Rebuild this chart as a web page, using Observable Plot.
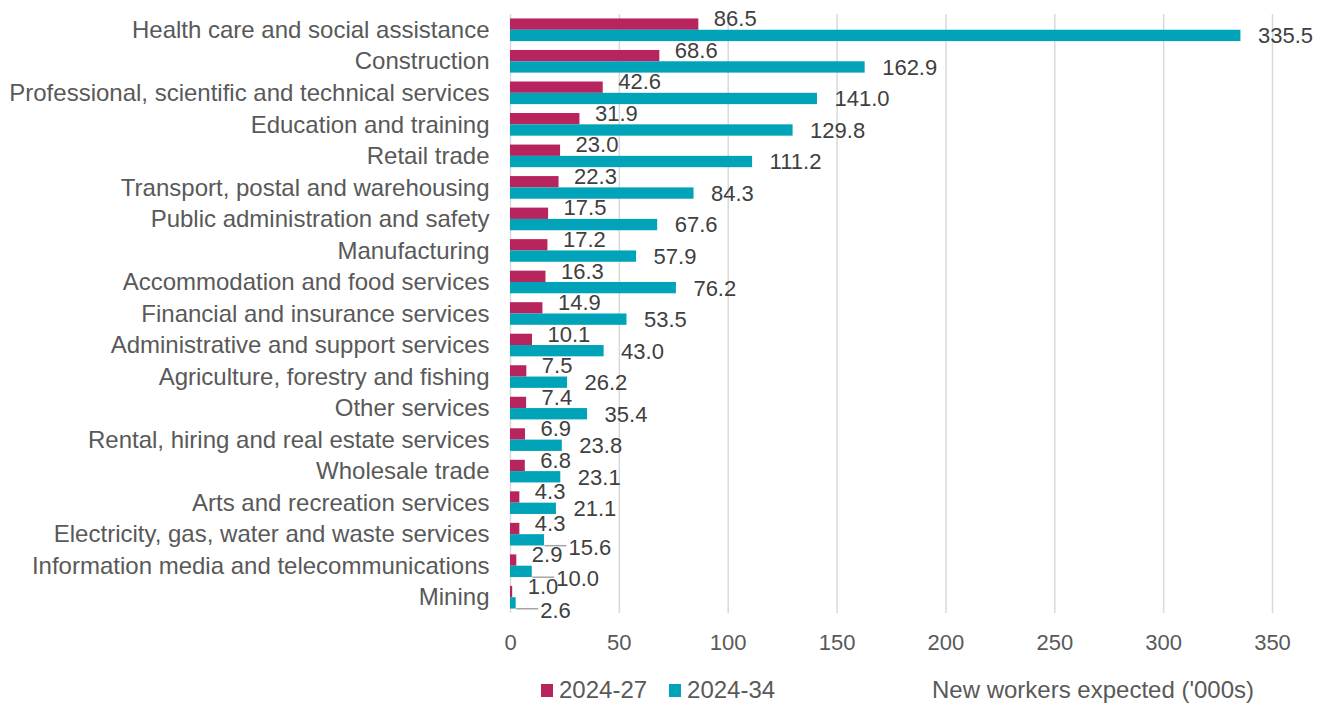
<!DOCTYPE html>
<html>
<head>
<meta charset="utf-8">
<script src="https://cdn.jsdelivr.net/npm/d3@7"></script>
<script src="https://cdn.jsdelivr.net/npm/@observablehq/plot@0.6"></script>
<style>
  html, body { margin: 0; padding: 0; background: #fff; }
  #wrap { position: relative; width: 1328px; height: 706px; font-family: "Liberation Sans", Arial, sans-serif; }
  .legend { position: absolute; top: 675px; left: 541px; display: flex; align-items: center; font-size: 24px; color: #595959; line-height: 30px; }
  .sw { display: inline-block; width: 12px; height: 13px; margin-right: 6px; }
  .item { display: flex; align-items: center; margin-right: 22px; }
  .xlabel { position: absolute; top: 675px; left: 932px; font-size: 24px; color: #595959; line-height: 30px; }
</style>
</head>
<body>
<div id="wrap"></div>
<script>
const categories = [
  "Health care and social assistance",
  "Construction",
  "Professional, scientific and technical services",
  "Education and training",
  "Retail trade",
  "Transport, postal and warehousing",
  "Public administration and safety",
  "Manufacturing",
  "Accommodation and food services",
  "Financial and insurance services",
  "Administrative and support services",
  "Agriculture, forestry and fishing",
  "Other services",
  "Rental, hiring and real estate services",
  "Wholesale trade",
  "Arts and recreation services",
  "Electricity, gas, water and waste services",
  "Information media and telecommunications",
  "Mining"
];
const values2027 = [86.5, 68.6, 42.6, 31.9, 23.0, 22.3, 17.5, 17.2, 16.3, 14.9, 10.1, 7.5, 7.4, 6.9, 6.8, 4.3, 4.3, 2.9, 1.0];
const values2034 = [335.5, 162.9, 141.0, 129.8, 111.2, 84.3, 67.6, 57.9, 76.2, 53.5, 43.0, 26.2, 35.4, 23.8, 23.1, 21.1, 15.6, 10.0, 2.6];
const seriesNames = ["2024-27", "2024-34"];
const xTicks = [0, 50, 100, 150, 200, 250, 300, 350];

const colors = ["#B7245E", "#00A3B8"];

const d27 = categories.map((c, i) => ({category: c, value: values2027[i]}));
const d34 = categories.map((c, i) => ({category: c, value: values2034[i]}));
// crowded small labels are pushed down-right with a leader line (as in the source chart)
const crowdLimit = 20;
const d34normal = d34.filter(d => d.value >= crowdLimit);
const d34crowded = d34.filter(d => d.value < crowdLimit);

const step = 31.5;
const barH = 11.3;
const half = step / 2;
const pxPerUnit = (1328 - 56 - 510) / 350;

const chart = Plot.plot({
  width: 1328,
  height: 660,
  marginLeft: 510,
  marginRight: 56,
  marginTop: 14,
  marginBottom: 47,
  style: { fontFamily: "Liberation Sans, Arial, sans-serif", fontSize: "22px", color: "#595959", background: "#fff" },
  x: { domain: [0, 350], ticks: xTicks, label: null },
  y: { domain: categories, padding: 0, round: false, label: null },
  marks: [
    Plot.gridX(xTicks, { stroke: "#D9D9D9", strokeOpacity: 1, strokeWidth: 1.5 }),
    Plot.axisX({ ticks: xTicks, tickSize: 0, tickPadding: 21, fontSize: 22, fill: "#595959", label: null }),
    Plot.axisY({ tickSize: 0, tickPadding: 21, fontSize: 24, fill: "#595959", label: null }),
    Plot.barX(d27, { x: "value", y: "category", fill: colors[0], insetTop: half - barH, insetBottom: half }),
    Plot.barX(d34, { x: "value", y: "category", fill: colors[1], insetTop: half, insetBottom: half - barH }),
    Plot.text(d27, { x: "value", y: "category", text: d => d.value.toFixed(1), textAnchor: "start", dx: 15, dy: -11, fontSize: 22, fill: "#404040" }),
    Plot.text(d34normal, { x: "value", y: "category", text: d => d.value.toFixed(1), textAnchor: "start", dx: 17, dy: 6, fontSize: 22, fill: "#404040" }),
    Plot.link(d34crowded, { x1: "value", x2: d => d.value + 22 / pxPerUnit, y1: "category", y2: "category", dy: 11, stroke: "#A6A6A6", strokeWidth: 1.5 }),
    Plot.text(d34crowded, { x: "value", y: "category", text: d => d.value.toFixed(1), textAnchor: "start", dx: 24, dy: 13, fontSize: 22, fill: "#404040" }),
  ]
});

const wrap = document.getElementById("wrap");
wrap.appendChild(chart);

const legend = document.createElement("div");
legend.className = "legend";
seriesNames.forEach((s, i) => {
  const it = document.createElement("div");
  it.className = "item";
  const sw = document.createElement("span");
  sw.className = "sw";
  sw.style.background = colors[i];
  it.appendChild(sw);
  it.appendChild(document.createTextNode(s));
  legend.appendChild(it);
});
wrap.appendChild(legend);

const xl = document.createElement("div");
xl.className = "xlabel";
xl.textContent = "New workers expected ('000s)";
wrap.appendChild(xl);
</script>
</body>
</html>
